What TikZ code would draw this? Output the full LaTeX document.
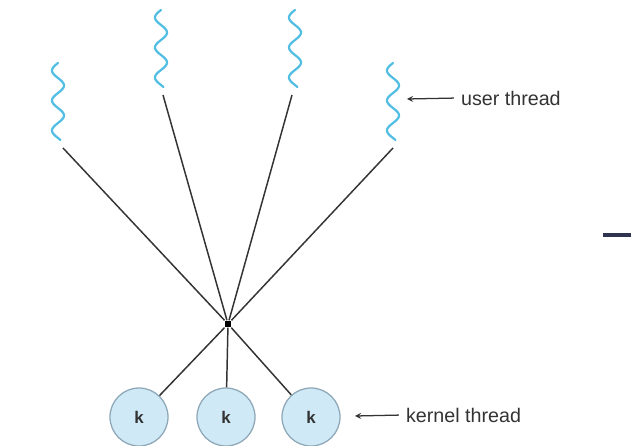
\documentclass[tikz,border=0pt]{standalone}
\usepackage{fontspec}
\setmainfont{Liberation Sans}
\usetikzlibrary{positioning, arrows.meta}

\definecolor{threadblue}{HTML}{52BEE3}
\definecolor{kfill}{HTML}{CFE9F7}
\definecolor{kline}{HTML}{8FA8B8}
\definecolor{linegray}{HTML}{333333}
\definecolor{barnavy}{HTML}{2F3550}

\tikzset{
	thread/.style={threadblue, line width=1.6pt, line cap=round},
	link/.style={linegray, line width=1.05pt},
	kernel/.style={draw=kline, line width=0.9pt, fill=kfill, circle, minimum size=1.45cm, inner sep=0pt, font=\bfseries\fontsize{12}{14}\selectfont, text=black!80},
	label/.style={font=\fontsize{14}{16}\selectfont, text=black!80, inner sep=2pt}
}

\begin{document}
\begin{tikzpicture}[>=stealth, x=0.025cm, y=-0.025cm]
		\useasboundingbox (0,0) rectangle (631,446);
		% user threads
		\foreach \n/\px/\py/\dx in {1/58/63/5, 2/161/10/2, 3/295/10/-3, 4/393/63/0} {
			\draw[thread, shift={(\px,\py)}] plot[domain=0:77, samples=90, smooth] ({-6*sin(\x*12)}, \x);
			\coordinate (u\n) at (\px+\dx, \py+85);
		}
		\node[fill=black, inner sep=0pt, minimum size=0.17cm] (hub) at (228,324) {};
		\node[kernel] (k1) at (139,417) {k};
		\node[kernel] (k2) at (226,417) {k};
		\node[kernel] (k3) at (311,417) {k};
		\foreach \n in {1,...,4}
			\draw[link] (u\n) -- (hub);
		\foreach \n in {1,...,3}
			\draw[link] (hub) -- (k\n);
		% labels
		\coordinate (ua) at (407,99);
		\node[label, anchor=west] (ul) at (458,98) {user thread};
		\draw[->, linegray, line width=0.9pt, shorten <=3pt] (ul.west) -- (ua);
		\coordinate (ka) at (355,416);
		\node[label, anchor=west] (kl) at (403,415) {kernel thread};
		\draw[->, linegray, line width=0.9pt, shorten <=3pt] (kl.west) -- (ka);
		\fill[barnavy] (603,233) rectangle (631,237);
	\end{tikzpicture}
\end{document}
